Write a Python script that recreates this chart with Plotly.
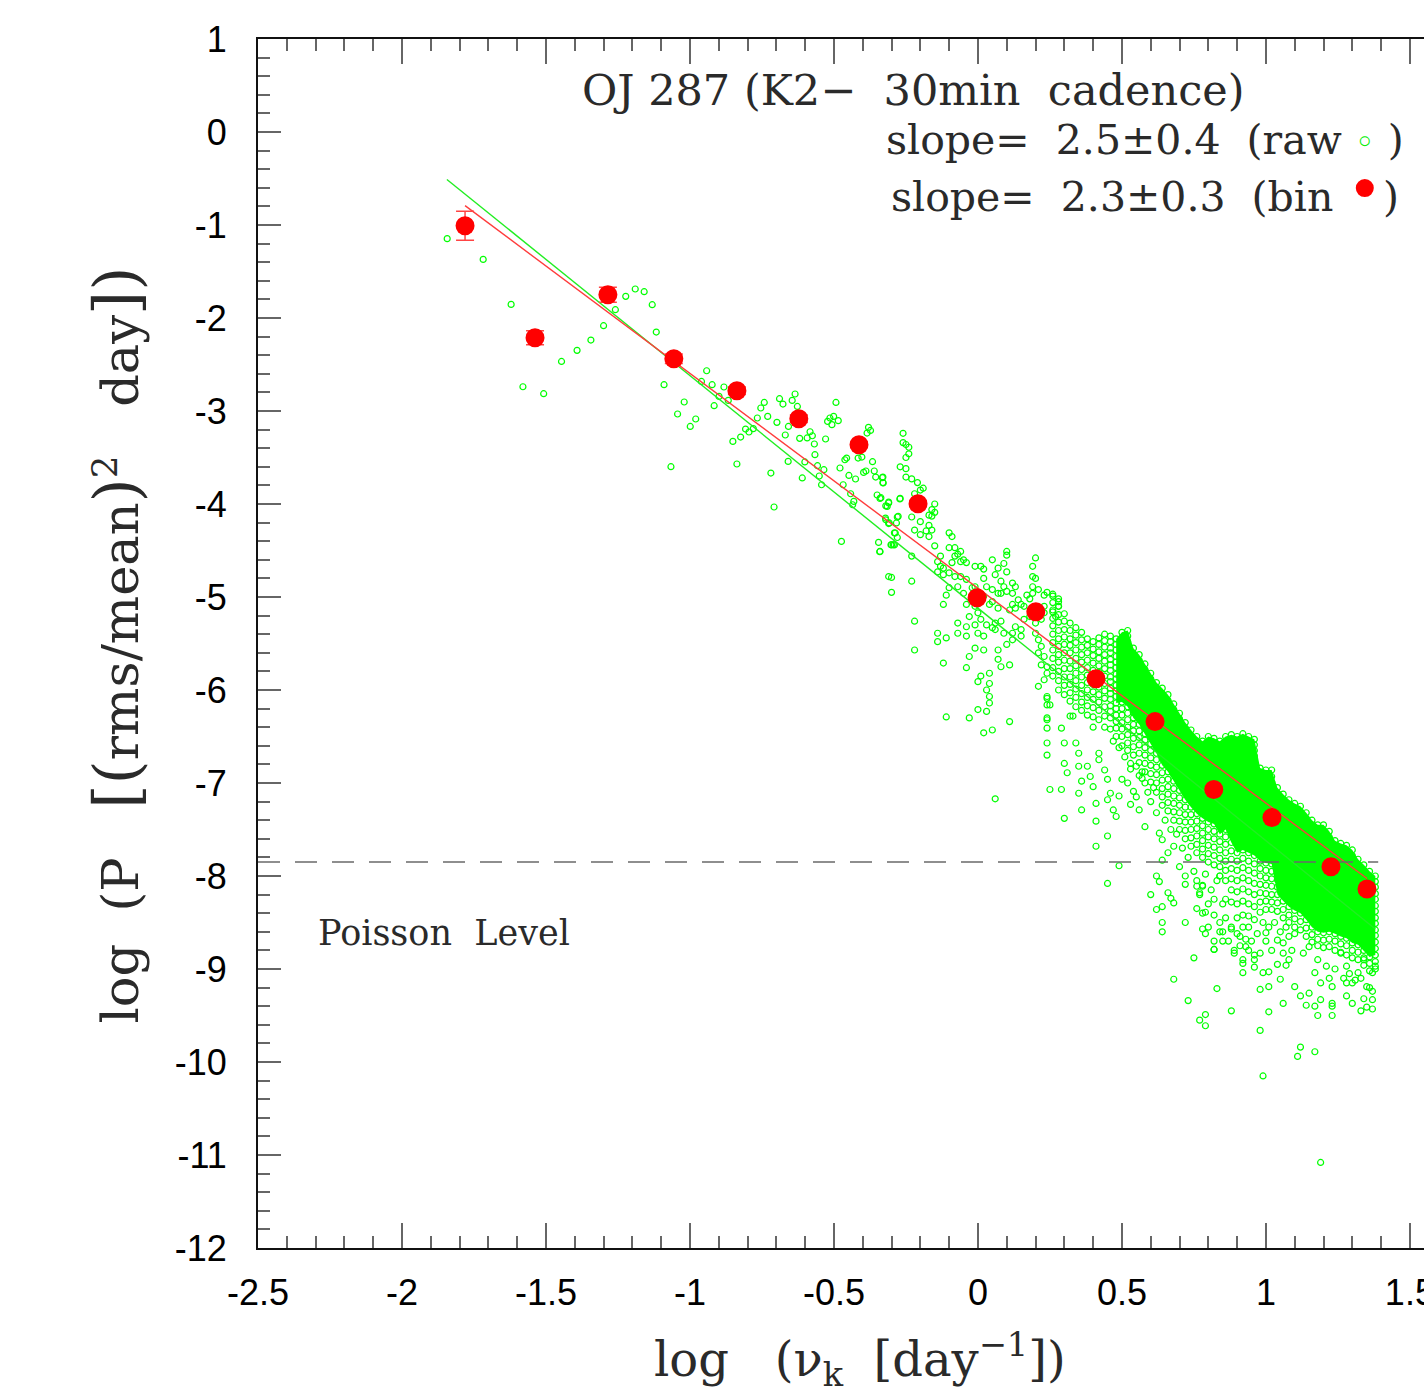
import plotly.graph_objects as go

# ---------------- data ----------------
# binned power spectrum (red filled circles)
bin_x = [-1.781, -1.538, -1.285, -1.056, -0.837, -0.622, -0.413, -0.208, -0.003,
         0.201, 0.410, 0.615, 0.819, 1.021, 1.226, 1.351]
bin_y = [-1.008, -2.212, -1.750, -2.438, -2.782, -3.083, -3.363, -3.998, -5.008,
         -5.159, -5.880, -6.340, -7.070, -7.370, -7.900, -8.140]
bin_err = [0.155, 0.075, 0.08, 0.05, 0.04, 0.04, 0.03, 0.03, 0.03,
           0.02, 0.02, 0.02, 0.02, 0.02, 0.02, 0.02]

# fitted power laws
fit_raw = dict(slope=-2.5, intercept=-5.12, x0=-1.844, x1=1.38)
fit_bin = dict(slope=-2.31, intercept=-4.906, x0=-1.781, x1=1.351)
poisson_level = -7.85
poisson_x = [-2.5, 1.39]

# raw periodogram (green open circles): sparse low-frequency part
raw_low = [(-1.843,-1.147),(-1.718,-1.370),(-1.621,-1.854),(-1.580,-2.739),(-1.508,-2.814),
 (-1.446,-2.467),(-1.392,-2.348),(-1.344,-2.237),(-1.300,-2.083),(-1.259,-1.911),(-1.223,-1.767),
 (-1.190,-1.688),(-1.159,-1.717),(-1.131,-1.857),(-1.117,-2.151),(-1.090,-2.717),(-1.066,-3.599),
 (-1.043,-3.032),(-1.020,-2.903),(-0.999,-3.166),(-0.980,-3.086),(-0.960,-2.682),(-0.942,-2.567),
 (-0.923,-2.717),(-0.916,-2.943),(-0.899,-2.843),(-0.882,-2.742),(-0.867,-2.886),(-0.851,-3.327),
 (-0.837,-3.570),(-0.824,-3.280),(-0.807,-3.194),(-0.795,-3.226),(-0.780,-3.190),(-0.766,-3.075),
 (-0.754,-2.968),(-0.742,-2.908),(-0.730,-3.058),(-0.719,-3.667),(-0.708,-4.032),(-0.698,-3.122),
 (-0.689,-2.868),(-0.677,-2.925),(-0.669,-3.258),(-0.659,-3.542),(-0.658,-3.166),(-0.645,-2.886),
 (-0.635,-2.817),(-0.627,-2.951),(-0.619,-3.294),(-0.610,-3.720),(-0.601,-3.548),(-0.593,-3.290),
 (-0.583,-3.223),(-0.575,-3.266),(-0.568,-3.355),(-0.566,-3.470),(-0.557,-3.588),(-0.551,-3.699),
 (-0.543,-3.793),(-0.535,-3.631),(-0.529,-3.301),(-0.522,-3.112),(-0.514,-3.075),(-0.507,-3.147),
 (-0.501,-3.058),(-0.493,-2.908),(-0.485,-3.104),(-0.479,-3.613),(-0.474,-4.402),(-0.468,-3.793),
 (-0.462,-3.524),(-0.456,-3.506),(-0.448,-3.693),(-0.442,-3.890),(-0.435,-4.008),(-0.431,-3.972),
 (-0.425,-3.731),(-0.416,-3.506),(-0.403,-3.495),(-0.397,-3.660),(-0.389,-3.645),(-0.385,-3.237),
 (-0.380,-3.176),(-0.373,-3.209),(-0.366,-3.545),(-0.360,-3.645),(-0.355,-3.710),(-0.350,-3.903),
 (-0.345,-4.413),(-0.341,-4.513),(-0.337,-3.932),(-0.332,-3.717),(-0.329,-3.774),(-0.321,-4.151),
 (-0.315,-4.025),(-0.310,-3.989),(-0.308,-4.204),(-0.302,-4.438),(-0.294,-4.438),(-0.287,-4.312),
 (-0.283,-4.204),(-0.277,-4.133),(-0.271,-3.946)]

# intermediate frequencies
raw_mid = [(-0.26,-3.24),(-0.26,-3.34),(-0.25,-3.36),(-0.24,-3.39),(-0.24,-3.46),(-0.25,-3.50),
 (-0.27,-3.60),(-0.25,-3.62),(-0.25,-3.71),(-0.23,-3.73),(-0.33,-3.71),(-0.33,-3.77),(-0.21,-3.77),
 (-0.19,-3.83),(-0.20,-3.85),(-0.22,-3.89),(-0.27,-3.94),(-0.34,-3.94),(-0.31,-3.98),(-0.32,-4.02),
 (-0.15,-4.00),(-0.16,-4.06),(-0.15,-4.09),(-0.17,-4.12),(-0.16,-4.13),(-0.23,-4.14),(-0.28,-4.14),
 (-0.32,-4.17),(-0.31,-4.21),(-0.17,-4.23),(-0.20,-4.19),(-0.22,-4.28),(-0.20,-4.33),(-0.18,-4.29),
 (-0.17,-4.35),(-0.16,-4.28),(-0.29,-4.31),(-0.28,-4.36),(-0.29,-4.44),(-0.34,-4.51),(-0.15,-4.45),
 (-0.23,-4.56),(-0.10,-4.31),(-0.09,-4.35),(-0.10,-4.47),(-0.08,-4.47),(-0.06,-4.51),(-0.05,-4.60),
 (-0.13,-4.56),(-0.14,-4.62),(-0.13,-4.67),(-0.12,-4.69),(-0.14,-4.73),(-0.10,-4.74),(-0.12,-4.76),
 (-0.09,-4.63),(-0.08,-4.56),(-0.07,-4.54),(-0.06,-4.62),(-0.04,-4.63),(-0.01,-4.67),(0.01,-4.67),
 (0.02,-4.70),(0.05,-4.60),(0.07,-4.69),(0.10,-4.51),(0.10,-4.55),(0.09,-4.64),(0.10,-4.73),
 (0.06,-4.76),(0.02,-4.80),(0.08,-4.83),(0.09,-4.89),(0.12,-4.85),(0.13,-4.89),(0.08,-4.96),
 (0.10,-4.94),(0.12,-4.96),(0.14,-5.03),(0.15,-5.08),(0.12,-5.08),(0.11,-5.14),(0.13,-5.12),
 (0.16,-5.10),(0.17,-4.98),(0.18,-5.02),(0.19,-4.96),(0.19,-4.89),(0.19,-4.78),(0.20,-4.80),
 (0.19,-4.67),(0.20,-4.58),(0.21,-4.92),(0.23,-4.98),(0.24,-4.95),(0.26,-4.99),(0.28,-5.05),
 (0.28,-5.10),(0.27,-5.21),(0.26,-5.16),(0.23,-5.10),(0.23,-5.17),(0.22,-5.24),(0.20,-5.28),
 (0.18,-5.21),(0.16,-5.24),(0.15,-5.35),(0.13,-5.32),(0.15,-5.42),(0.12,-5.39),(0.12,-5.46),
 (0.10,-5.51),(0.20,-5.39),(0.21,-5.46),(0.22,-5.53),(0.21,-5.60),(0.23,-5.64),(0.22,-5.73),
 (0.24,-5.75),(0.24,-5.82),(0.23,-5.89),(0.21,-5.96),(0.24,-6.07),(0.25,-6.16),(0.24,-6.32),
 (0.24,-6.41),(0.29,-6.41),(0.32,-6.28),(-0.30,-4.79),(-0.30,-4.95),(-0.23,-4.83),(-0.22,-5.26),
 (-0.22,-5.57),(-0.12,-5.71),(-0.14,-5.39),(-0.14,-5.48),(-0.11,-5.44),(-0.07,-5.28),(-0.07,-5.39),
 (-0.04,-5.32),(-0.04,-5.42),(-0.01,-5.30),(0.00,-5.39),(0.02,-5.42),(0.03,-5.30),(0.05,-5.33),
 (0.06,-5.35),(-0.01,-5.55),(0.02,-5.57),(-0.03,-5.64),(-0.04,-5.76),(0.01,-5.85),(0.00,-5.91),
 (0.04,-5.82),(0.04,-5.93),(0.03,-6.00),(0.04,-6.07),(0.04,-6.14),(0.00,-6.21),(0.03,-6.23),
 (-0.03,-6.30),(-0.11,-6.29),(0.02,-6.46),(0.05,-6.43),(0.11,-6.34),(0.07,-5.67),(0.08,-5.75),
 (0.07,-5.57),(0.11,-5.73),(0.08,-5.26),(0.09,-5.39),(0.06,-5.28),(0.00,-5.17),(-0.01,-5.10),
 (-0.03,-5.21),(0.01,-5.24),(0.02,-4.99),(-0.04,-4.81),(-0.06,-4.78),(-0.08,-4.78),(-0.10,-4.90),
 (-0.11,-4.98),(-0.12,-5.08),(-0.07,-4.89),(-0.05,-4.96),(-0.02,-4.90),(-0.01,-4.89),(0.03,-4.89),
 (0.05,-4.92),(0.07,-4.96),(0.05,-5.05),(0.07,-5.12),(0.04,-5.08),(-0.04,-5.08),(0.06,-7.17),
 (-0.31,-4.78),(-0.30,-4.44)]

# high-frequency columns (x, list of y) of the dense cloud
dense_cols = [
 (0.26, [-4.97,-5.06,-5.14,-5.23,-5.31,-5.40,-5.49,-5.57,-5.66,-5.76,-5.85]),
 (0.28, [-5.02,-5.10,-5.19,-5.27,-5.36,-5.45,-5.53,-5.62,-5.70,-5.80,-5.90,-6.00]),
 (0.30, [-5.18,-5.26,-5.35,-5.43,-5.51,-5.60,-5.68,-5.77,-5.86,-5.95,-6.05]),
 (0.32, [-5.28,-5.36,-5.45,-5.52,-5.60,-5.69,-5.77,-5.86,-5.94,-6.03,-6.12]),
 (0.34, [-5.33,-5.41,-5.49,-5.57,-5.66,-5.74,-5.82,-5.90,-5.99,-6.08,-6.18]),
 (0.36, [-5.38,-5.46,-5.54,-5.62,-5.70,-5.78,-5.86,-5.95,-6.04,-6.13,-6.22]),
 (0.38, [-5.45,-5.52,-5.60,-5.68,-5.76,-5.84,-5.92,-6.00,-6.08,-6.17,-6.27]),
 (0.40, [-5.48,-5.56,-5.63,-5.71,-5.79,-5.86,-5.94,-6.02,-6.10,-6.19,-6.29,-6.40]),
 (0.42, [-5.44,-5.51,-5.59,-5.66,-5.74,-5.81,-5.89,-5.97,-6.05,-6.13,-6.22,-6.32]),
 (0.44, [-5.40,-5.47,-5.54,-5.62,-5.69,-5.77,-5.85,-5.93,-6.01,-6.09,-6.18,-6.28,-6.40]),
 (0.46, [-5.42,-5.48,-5.55,-5.60,-5.67,-5.73,-5.79,-5.86,-5.91,-5.98,-6.04,-6.10,-6.17,-6.23,-6.30]),
 (0.48, [-5.45,-5.51,-5.57,-5.64,-5.70,-5.76,-5.83,-5.88,-5.95,-6.01,-6.07,-6.14,-6.20,-6.27,-6.34,-6.41]),
 (0.50, [-5.38,-5.44,-5.51,-5.57,-5.63,-5.69,-5.75,-5.82,-5.88,-5.94,-6.00,-6.07,-6.13,-6.20,-6.27,-6.35,-6.42,-6.50]),
 (0.52, [-5.36,-5.42,-5.48,-5.55,-5.61,-5.67,-5.74,-5.80,-5.86,-5.92,-5.99,-6.05,-6.12,-6.18,-6.25,-6.32,-6.40,-6.48,-6.57]),
 (0.54, [-5.55,-5.61,-5.67,-5.73,-5.80,-5.86,-5.92,-5.98,-6.05,-6.11,-6.17,-6.24,-6.30,-6.37,-6.44,-6.52,-6.61,-6.70]),
 (0.56, [-5.62,-5.68,-5.74,-5.80,-5.87,-5.93,-5.99,-6.05,-6.12,-6.18,-6.24,-6.31,-6.37,-6.44,-6.51,-6.59,-6.68,-6.78]),
 (0.58, [-5.72,-5.78,-5.84,-5.90,-5.96,-6.03,-6.09,-6.15,-6.22,-6.28,-6.34,-6.41,-6.47,-6.54,-6.62,-6.70,-6.79,-6.88]),
 (0.60, [-5.82,-5.88,-5.94,-6.00,-6.06,-6.13,-6.19,-6.25,-6.31,-6.38,-6.44,-6.51,-6.58,-6.65,-6.73,-6.81,-6.90,-6.99]),
 (0.62, [-5.92,-5.98,-6.04,-6.10,-6.16,-6.22,-6.29,-6.35,-6.41,-6.48,-6.54,-6.61,-6.68,-6.75,-6.83,-6.91,-7.00,-7.10]),
 (0.64, [-5.98,-6.04,-6.10,-6.16,-6.22,-6.29,-6.35,-6.41,-6.48,-6.54,-6.61,-6.67,-6.74,-6.81,-6.89,-6.97,-7.06,-7.15,-7.24]),
 (0.66, [-6.05,-6.11,-6.17,-6.23,-6.30,-6.36,-6.42,-6.48,-6.55,-6.61,-6.68,-6.74,-6.81,-6.88,-6.96,-7.04,-7.12,-7.21,-7.30]),
 (0.68, [-6.15,-6.21,-6.27,-6.33,-6.40,-6.46,-6.52,-6.58,-6.65,-6.71,-6.78,-6.84,-6.91,-6.98,-7.06,-7.14,-7.22,-7.31,-7.40]),
 (0.70, [-6.25,-6.31,-6.37,-6.43,-6.50,-6.56,-6.62,-6.69,-6.75,-6.81,-6.88,-6.94,-7.01,-7.08,-7.16,-7.24,-7.32,-7.41,-7.50]),
 (0.72, [-6.35,-6.41,-6.47,-6.53,-6.60,-6.66,-6.72,-6.78,-6.85,-6.91,-6.98,-7.04,-7.11,-7.18,-7.26,-7.34,-7.42,-7.51,-7.60]),
 (0.74, [-6.43,-6.49,-6.55,-6.61,-6.68,-6.74,-6.80,-6.87,-6.93,-6.99,-7.06,-7.12,-7.19,-7.26,-7.34,-7.42,-7.50,-7.59,-7.68]),
 (0.76, [-6.50,-6.56,-6.62,-6.68,-6.75,-6.81,-6.87,-6.94,-7.00,-7.06,-7.13,-7.19,-7.26,-7.33,-7.41,-7.49,-7.57,-7.66,-7.75]),
 (0.78, [-6.55,-6.61,-6.67,-6.73,-6.80,-6.86,-6.92,-6.99,-7.05,-7.11,-7.18,-7.24,-7.31,-7.38,-7.46,-7.54,-7.62,-7.71,-7.80]),
 (0.80, [-6.50,-6.56,-6.62,-6.68,-6.75,-6.81,-6.87,-6.94,-7.00,-7.07,-7.13,-7.20,-7.27,-7.34,-7.42,-7.50,-7.58,-7.67,-7.76,-7.85]),
 (0.82, [-6.52,-6.58,-6.64,-6.70,-6.77,-6.83,-6.89,-6.96,-7.02,-7.09,-7.15,-7.22,-7.29,-7.36,-7.44,-7.52,-7.60,-7.69,-7.78,-7.88]),
 (0.84, [-6.55,-6.61,-6.67,-6.73,-6.80,-6.86,-6.92,-6.99,-7.05,-7.12,-7.18,-7.25,-7.32,-7.39,-7.47,-7.55,-7.63,-7.72,-7.81,-7.90,-8.00]),
 (0.86, [-6.50,-6.56,-6.62,-6.68,-6.75,-6.81,-6.87,-6.94,-7.00,-7.07,-7.13,-7.20,-7.27,-7.34,-7.42,-7.50,-7.58,-7.66,-7.75,-7.84,-7.94,-8.05]),
 (0.88, [-6.48,-6.54,-6.60,-6.66,-6.73,-6.79,-6.85,-6.92,-6.98,-7.05,-7.11,-7.18,-7.25,-7.32,-7.40,-7.48,-7.56,-7.64,-7.73,-7.82,-7.92,-8.03,-8.15,-8.28]),
 (0.90, [-6.50,-6.56,-6.62,-6.68,-6.75,-6.81,-6.87,-6.94,-7.00,-7.07,-7.13,-7.20,-7.27,-7.34,-7.42,-7.50,-7.58,-7.66,-7.75,-7.84,-7.94,-8.05,-8.17,-8.30,-8.45]),
 (0.92, [-6.47,-6.53,-6.59,-6.65,-6.72,-6.78,-6.84,-6.91,-6.97,-7.04,-7.10,-7.17,-7.24,-7.31,-7.39,-7.47,-7.55,-7.63,-7.72,-7.81,-7.91,-8.02,-8.14,-8.27,-8.42,-8.55]),
 (0.94, [-6.50,-6.56,-6.62,-6.68,-6.75,-6.81,-6.87,-6.94,-7.00,-7.07,-7.13,-7.20,-7.27,-7.34,-7.42,-7.50,-7.58,-7.66,-7.75,-7.84,-7.94,-8.05,-8.17,-8.30,-8.43,-8.55]),
 (0.96, [-6.53,-6.59,-6.65,-6.71,-6.78,-6.84,-6.90,-6.97,-7.03,-7.10,-7.16,-7.23,-7.30,-7.37,-7.45,-7.53,-7.61,-7.69,-7.78,-7.87,-7.97,-8.08,-8.20,-8.33,-8.47]),
 (0.98, [-6.84,-6.90,-6.96,-7.02,-7.09,-7.15,-7.21,-7.28,-7.34,-7.41,-7.47,-7.54,-7.61,-7.68,-7.76,-7.84,-7.92,-8.00,-8.09,-8.18,-8.28,-8.39]),
 (1.00, [-6.86,-6.92,-6.98,-7.04,-7.11,-7.17,-7.23,-7.30,-7.36,-7.43,-7.49,-7.56,-7.63,-7.70,-7.78,-7.86,-7.94,-8.02,-8.10,-8.19,-8.27,-8.36]),
 (1.02, [-6.86,-6.93,-6.99,-7.05,-7.12,-7.18,-7.24,-7.31,-7.37,-7.44,-7.50,-7.57,-7.64,-7.71,-7.79,-7.87,-7.95,-8.03,-8.11,-8.20,-8.28,-8.36]),
 (1.04, [-7.05,-7.11,-7.17,-7.23,-7.30,-7.36,-7.42,-7.49,-7.55,-7.62,-7.68,-7.75,-7.82,-7.89,-7.96,-8.04,-8.12,-8.20,-8.29,-8.38]),
 (1.06, [-7.12,-7.18,-7.24,-7.30,-7.37,-7.43,-7.49,-7.56,-7.62,-7.69,-7.75,-7.82,-7.89,-7.96,-8.03,-8.11,-8.19,-8.27,-8.36,-8.45]),
 (1.08, [-7.18,-7.24,-7.30,-7.36,-7.43,-7.49,-7.55,-7.62,-7.68,-7.75,-7.81,-7.88,-7.95,-8.02,-8.09,-8.17,-8.25,-8.33,-8.42,-8.50]),
 (1.10, [-7.22,-7.28,-7.34,-7.40,-7.47,-7.53,-7.59,-7.66,-7.72,-7.79,-7.85,-7.92,-7.99,-8.06,-8.13,-8.21,-8.29,-8.37,-8.46,-8.55]),
 (1.12, [-7.25,-7.31,-7.37,-7.43,-7.50,-7.56,-7.62,-7.69,-7.75,-7.82,-7.88,-7.95,-8.02,-8.09,-8.16,-8.24,-8.32,-8.40,-8.49,-8.58]),
 (1.14, [-7.32,-7.38,-7.44,-7.50,-7.57,-7.63,-7.69,-7.76,-7.82,-7.89,-7.95,-8.02,-8.09,-8.16,-8.23,-8.31,-8.39,-8.47,-8.56,-8.65]),
 (1.16, [-7.40,-7.46,-7.52,-7.58,-7.65,-7.71,-7.77,-7.84,-7.90,-7.97,-8.03,-8.10,-8.17,-8.24,-8.31,-8.39,-8.47,-8.55,-8.63,-8.71]),
 (1.18, [-7.45,-7.51,-7.57,-7.63,-7.70,-7.76,-7.82,-7.89,-7.95,-8.02,-8.08,-8.15,-8.22,-8.29,-8.36,-8.44,-8.52,-8.60,-8.68,-8.75]),
 (1.20, [-7.45,-7.51,-7.57,-7.64,-7.70,-7.77,-7.83,-7.90,-7.96,-8.03,-8.09,-8.16,-8.23,-8.30,-8.37,-8.45,-8.53,-8.61,-8.69,-8.77]),
 (1.22, [-7.52,-7.58,-7.64,-7.71,-7.77,-7.84,-7.90,-7.97,-8.03,-8.10,-8.16,-8.23,-8.30,-8.37,-8.44,-8.52,-8.60,-8.68,-8.76]),
 (1.24, [-7.62,-7.68,-7.74,-7.81,-7.87,-7.94,-8.00,-8.07,-8.13,-8.20,-8.26,-8.33,-8.40,-8.47,-8.54,-8.62,-8.70,-8.80]),
 (1.26, [-7.65,-7.71,-7.77,-7.84,-7.90,-7.97,-8.03,-8.10,-8.16,-8.23,-8.29,-8.36,-8.43,-8.50,-8.57,-8.65,-8.73,-8.82]),
 (1.28, [-7.67,-7.73,-7.79,-7.86,-7.92,-7.99,-8.05,-8.12,-8.18,-8.25,-8.31,-8.38,-8.45,-8.52,-8.59,-8.67,-8.75,-8.85]),
 (1.30, [-7.72,-7.78,-7.84,-7.91,-7.97,-8.04,-8.10,-8.17,-8.23,-8.30,-8.36,-8.43,-8.50,-8.57,-8.64,-8.72,-8.80,-8.88]),
 (1.32, [-7.82,-7.88,-7.94,-8.01,-8.07,-8.14,-8.20,-8.27,-8.33,-8.40,-8.46,-8.53,-8.60,-8.67,-8.74,-8.82,-8.90]),
 (1.34, [-7.88,-7.94,-8.00,-8.07,-8.13,-8.20,-8.26,-8.33,-8.39,-8.46,-8.52,-8.59,-8.66,-8.73,-8.80,-8.88,-8.96]),
 (1.36, [-7.95,-8.01,-8.07,-8.14,-8.20,-8.27,-8.33,-8.40,-8.46,-8.53,-8.59,-8.66,-8.73,-8.80,-8.87,-8.94,-9.02]),
 (1.38, [-8.00,-8.06,-8.12,-8.19,-8.25,-8.32,-8.38,-8.45,-8.51,-8.58,-8.64,-8.71,-8.78,-8.85,-8.92,-9.00]),
]

# scattered high-frequency points below the dense band
raw_tail = [(0.24,-6.09),(0.24,-6.16),(0.24,-6.30),(0.24,-6.57),(0.24,-6.70),(0.25,-7.07),
 (0.29,-7.07),(0.30,-7.38),(0.30,-6.57),(0.30,-6.79),(0.31,-6.89),(0.33,-6.28),(0.34,-6.57),
 (0.35,-6.68),(0.35,-6.82),(0.36,-6.98),(0.35,-7.11),(0.36,-7.29),(0.38,-6.82),(0.39,-6.93),
 (0.40,-7.04),(0.41,-7.22),(0.41,-7.41),(0.41,-7.68),(0.45,-7.57),(0.45,-8.08),(0.49,-7.89),
 (0.42,-6.68),(0.42,-6.75),(0.44,-6.86),(0.45,-6.96),(0.46,-7.11),(0.45,-7.18),(0.47,-7.29),
 (0.48,-7.36),(0.49,-7.14),(0.50,-6.96),(0.53,-6.79),(0.54,-7.09),(0.53,-7.23),(0.56,-7.29),
 (0.58,-7.47),(0.62,-7.32),(0.63,-7.54),(0.64,-7.61),(0.62,-8.00),(0.63,-8.06),(0.60,-8.20),
 (0.66,-8.18),(0.64,-7.83),(0.66,-7.75),(0.68,-7.68),(0.72,-8.00),(0.72,-8.09),(0.76,-8.11),
 (0.77,-8.18),(0.62,-8.36),(0.64,-8.33),(0.64,-8.50),(0.64,-8.60),(0.72,-8.50),(0.75,-8.88),
 (0.68,-9.11),(0.73,-9.34),(0.77,-9.55),(0.79,-9.49),(0.79,-9.61),(0.83,-9.21),(0.88,-9.45),
 (0.82,-8.79),(0.85,-8.70),(0.92,-8.94),(0.98,-9.22),(0.98,-9.66),(1.01,-9.46),(1.06,-9.37),
 (0.99,-10.15),(0.96,-8.98),(1.01,-9.03),(1.07,-8.96),(1.12,-9.84),(1.11,-9.94),(1.17,-9.89),
 (1.19,-11.08),(0.67,-8.24),(0.68,-8.29),(0.46,-6.42),(0.47,-6.55),(0.48,-6.50),(0.49,-6.62),
 (0.50,-6.60),(0.51,-6.72),(0.52,-6.65),(0.53,-6.85),(0.55,-6.82),(0.56,-6.92),(0.57,-6.88),
 (0.58,-7.00),(0.52,-7.00),(0.55,-7.15),(0.57,-6.95),(0.59,-7.10),(0.60,-7.20),(0.61,-7.05),
 (0.65,-7.40),(0.67,-7.50),(0.69,-7.55),(0.71,-7.70),(0.73,-7.80),(0.70,-7.90),
 (0.75,-7.95),(0.76,-8.05),(0.77,-8.20),(0.78,-8.10),(0.79,-7.98),(0.80,-8.30),(0.81,-8.15),
 (0.82,-8.42),(0.83,-8.05),(0.84,-8.60),(0.85,-8.30),(0.86,-8.45),(0.87,-8.70),(0.88,-8.55),
 (0.89,-8.80),(0.90,-8.62),(0.91,-8.75),(0.92,-8.90),(0.93,-8.68),(0.94,-8.80),(0.95,-8.70),
 (0.96,-8.85),(0.97,-8.62),(0.78,-8.40),(0.80,-8.55),(0.82,-8.70),(0.79,-8.62),(0.76,-8.35),
 (0.99,-8.50),(1.00,-8.70),(1.01,-8.55),(1.02,-8.80),(1.03,-8.50),(1.04,-8.95),(1.05,-8.60),
 (1.06,-8.72),(1.07,-8.55),(1.08,-8.65),(1.09,-8.80),(1.10,-8.62),
 (1.13,-8.83),(1.15,-8.76),(1.18,-8.90),(1.17,-9.04),(1.19,-9.15),(1.21,-8.97),(1.23,-9.19),
 (1.23,-9.37),(1.26,-8.83),(1.28,-8.97),(1.30,-9.15),(1.32,-9.04),(1.34,-8.90),(1.35,-9.19),
 (1.37,-9.04),(1.38,-8.97),(1.37,-9.33),(1.06,-8.83),(1.08,-8.90),(1.04,-8.69),(1.00,-8.61),
 (0.98,-8.83),(0.96,-8.90),(0.93,-8.76),(0.91,-8.65),(0.89,-8.83),(0.92,-9.04),(0.99,-9.04),
 (1.01,-9.19),(1.05,-9.11),(1.10,-9.19),(1.12,-9.29),(1.15,-9.26),(1.19,-9.33),(1.28,-9.29),
 (1.30,-9.37),(1.33,-9.45),(1.35,-9.41),(1.14,-9.39),(1.17,-9.40),(1.18,-9.50),(1.23,-9.40),
 (1.23,-9.50),(1.28,-9.15),(1.34,-9.32),(1.37,-9.43),(1.37,-9.24),(1.33,-9.10),(1.36,-9.20),
 (1.31,-9.12),(1.29,-9.05),(1.27,-9.10),(1.24,-9.00),(1.22,-9.10),(0.78,-8.11),(0.82,-8.25),
 (0.79,-8.39),(0.78,-8.57),(0.82,-8.79),(0.84,-8.50),(0.85,-8.60),(0.88,-8.57),(0.86,-8.25),
 (0.84,-8.00)]

# axis ticks
x_ticks = [-2.5, -2.0, -1.5, -1.0, -0.5, 0.0, 0.5, 1.0, 1.5]
x_ticktext = ["-2.5", "-2", "-1.5", "-1", "-0.5", "0", "0.5", "1", "1.5"]
y_ticks = [1, 0, -1, -2, -3, -4, -5, -6, -7, -8, -9, -10, -11, -12]
y_ticktext = ["1", "0", "-1", "-2", "-3", "-4", "-5", "-6", "-7", "-8", "-9", "-10", "-11", "-12"]

# ---------------- build ----------------
gx = [p[0] for p in raw_low + raw_mid]
gy = [p[1] for p in raw_low + raw_mid]
for cx, ys in dense_cols:
    gx += [cx] * len(ys)
    gy += ys
gx += [p[0] for p in raw_tail]
gy += [p[1] for p in raw_tail]

# saturated (fully over-plotted) part of the cloud, taken from the dense columns
core = [c for c in dense_cols if c[0] >= 0.48]
core_x = [c[0] for c in core]
core_top = []
core_bot = []
for cx, ys in core:
    s = sorted(ys, reverse=True)
    frac = 0.92 if cx >= 1.04 else 0.75
    core_top.append(s[0])
    core_bot.append(s[int(frac * (len(s) - 1))])

SERIF = "DejaVu Serif"
SANS = "Liberation Sans"
TXT = "#2a2a2a"
GREEN = "#00ff00"

fig = go.Figure()
fig.add_trace(go.Scatter(x=core_x + core_x[::-1], y=core_top + core_bot[::-1],
                         mode="lines", fill="toself", fillcolor=GREEN,
                         line=dict(width=0, color=GREEN), hoverinfo="skip"))
fig.add_trace(go.Scatter(x=gx, y=gy, mode="markers",
                         marker=dict(symbol="circle-open", size=6, color=GREEN,
                                     line=dict(width=1.2, color=GREEN)),
                         hoverinfo="skip"))
for fit, col in ((fit_raw, "#22ee22"), (fit_bin, "#ff3c3c")):
    xs = [fit["x0"], fit["x1"]]
    ys = [fit["intercept"] + fit["slope"] * v for v in xs]
    fig.add_trace(go.Scatter(x=xs, y=ys, mode="lines", line=dict(color=col, width=1.4)))
fig.add_trace(go.Scatter(x=poisson_x, y=[poisson_level, poisson_level], mode="lines",
                         line=dict(color="#6a6a6a", width=1.6, dash="22px,15px")))
fig.add_trace(go.Scatter(x=bin_x, y=bin_y, mode="markers",
                         marker=dict(symbol="circle", size=19, color="#ff0000"),
                         error_y=dict(type="data", array=bin_err, color="#ff4444",
                                      thickness=1.5, width=9)))

axis_common = dict(showgrid=False, zeroline=False, showline=True, linewidth=2,
                   linecolor="#111111", ticks="inside", tickwidth=1.5, tickcolor="#666666",
                   automargin=False, ticklabeloverflow="allow",
                   tickfont=dict(family=SANS, size=36, color="#000000"))
fig.update_xaxes(range=[-2.5, 1.549], tickvals=x_ticks, ticktext=x_ticktext, ticklen=25,
                 mirror="allticks", ticklabelstandoff=12,
                 minor=dict(tick0=-2.5, dtick=0.1, ticks="inside", ticklen=12,
                            tickwidth=1.5, tickcolor="#666666"),
                 **axis_common)
fig.update_yaxes(range=[-12, 1], tickvals=y_ticks, ticktext=y_ticktext, ticklen=23,
                 ticklabelstandoff=22,
                 minor=dict(tick0=0, dtick=0.2, ticks="inside", ticklen=12,
                            tickwidth=1.5, tickcolor="#666666"),
                 **axis_common)

nb = "\u00a0"
big = lambda s: f"<span style=\"font-size:62px\">{s}</span>"
ann = [
    dict(x=-1.382, y=0.455, xref="x", yref="y", xanchor="left", yanchor="middle",
         text=f"OJ{nb}287{nb}(K2−{nb}{nb}30min{nb}{nb}cadence)", font=dict(size=43)),
    dict(x=-0.326, y=-0.084, xref="x", yref="y", xanchor="left", yanchor="middle",
         text=f"slope={nb}{nb}2.5±0.4{nb}{nb}(raw{nb}<span style=\"color:#00ee00;font-size:34px\">◦</span>{nb})",
         font=dict(size=41)),
    dict(x=-0.309, y=-0.622, xref="x", yref="y", xanchor="left", yanchor="middle",
         text=f"slope={nb}{nb}2.3±0.3{nb}{nb}(bin{nb}<span style=\"color:#ff0000;font-size:62px\">•</span>)",
         font=dict(size=41)),
    dict(x=-2.299, y=-8.61, xref="x", yref="y", xanchor="left", yanchor="middle",
         text=f"Poisson{nb}{nb}Level", font=dict(size=35)),
    dict(x=-0.121, y=0.499, xref="paper", yref="paper", xanchor="center", yanchor="middle",
         textangle=-90,
         text=f"log{nb}{nb}(P{nb}{nb}{nb}{big('[')}{big('(')}rms/mean{big(')')}<sup>2</sup>{nb}{nb}{nb}day{big(']')}{big(')')}",
         font=dict(size=51)),
    dict(x=0.5163, y=-0.092, xref="paper", yref="paper", xanchor="center", yanchor="middle",
         text=f"log{nb}{nb}{nb}(ν<sub>k</sub>{nb}{nb}[day<sup>−1</sup>])", font=dict(size=48)),
]
for a in ann:
    a["showarrow"] = False
    a["font"].update(family=SERIF, color=TXT)
fig.update_layout(annotations=ann)

fig.update_layout(width=1424, height=1394, autosize=False, showlegend=False,
                  margin=dict(l=258, r=0, t=39, b=146, pad=0),
                  paper_bgcolor="white", plot_bgcolor="white")
fig.write_html("out.html", config={"displayModeBar": False},
               post_script="document.body.style.margin='0px';document.body.style.overflow='hidden';")
